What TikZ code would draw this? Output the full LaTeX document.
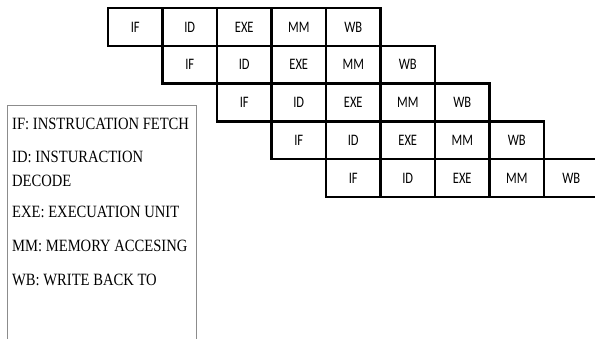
\documentclass[tikz,border=0pt]{standalone}
\usepackage{fontspec}
\setmainfont{Liberation Serif}
\newfontfamily\cellfont[FakeStretch=0.78]{Carlito}
\usetikzlibrary{positioning}
\begin{document}
\begin{tikzpicture}[x=1pt, y=-1pt,
		stage/.style={draw, line width=2.5pt, minimum width=54.5pt, minimum height=37.8pt,
			inner sep=0pt, outer sep=0pt, font=\cellfont\fontsize{16}{18}\selectfont},
		legendframe/.style={draw=black!45, line width=1pt},
		legendtext/.style={anchor=west, inner sep=0pt, align=left,
			font=\fontsize{14.6}{20.5}\selectfont, yscale=1.18},
	]
	\clip (0,0) rectangle (595,338);
	% pipeline, one row per instruction
	\node[stage] (a1) at (135.25,26.9) {IF}; \node[stage, right=0pt of a1] (a2) {ID};
	\node[stage, right=0pt of a2] (a3) {EXE}; \node[stage, right=0pt of a3] (a4) {MM};
	\node[stage, right=0pt of a4] (a5) {WB};
	%
	\node[stage, below=0pt of a2] (b1) {IF}; \node[stage, right=0pt of b1] (b2) {ID};
	\node[stage, right=0pt of b2] (b3) {EXE}; \node[stage, right=0pt of b3] (b4) {MM};
	\node[stage, right=0pt of b4] (b5) {WB};
	%
	\node[stage, below=0pt of b2] (c1) {IF}; \node[stage, right=0pt of c1] (c2) {ID};
	\node[stage, right=0pt of c2] (c3) {EXE}; \node[stage, right=0pt of c3] (c4) {MM};
	\node[stage, right=0pt of c4] (c5) {WB};
	%
	\node[stage, below=0pt of c2] (d1) {IF}; \node[stage, right=0pt of d1] (d2) {ID};
	\node[stage, right=0pt of d2] (d3) {EXE}; \node[stage, right=0pt of d3] (d4) {MM};
	\node[stage, right=0pt of d4] (d5) {WB};
	%
	\node[stage, below=0pt of d2] (e1) {IF}; \node[stage, right=0pt of e1] (e2) {ID};
	\node[stage, right=0pt of e2] (e3) {EXE}; \node[stage, right=0pt of e3] (e4) {MM};
	\node[stage, right=0pt of e4] (e5) {WB};

	% legend
	\draw[legendframe] (7,105) rectangle (196,350);
	\node[legendtext] (lIF) at (12,124) {IF: INSTRUCATION FETCH};
	\node[legendtext] (lID) at (12,169) {ID: INSTURACTION\\DECODE};
	\node[legendtext] (lEXE) at (12,212) {EXE: EXECUATION UNIT};
	\node[legendtext] (lMM) at (12,246) {MM: MEMORY ACCESING};
	\node[legendtext] (lWB) at (12,280) {WB: WRITE BACK TO};
\end{tikzpicture}
\end{document}
